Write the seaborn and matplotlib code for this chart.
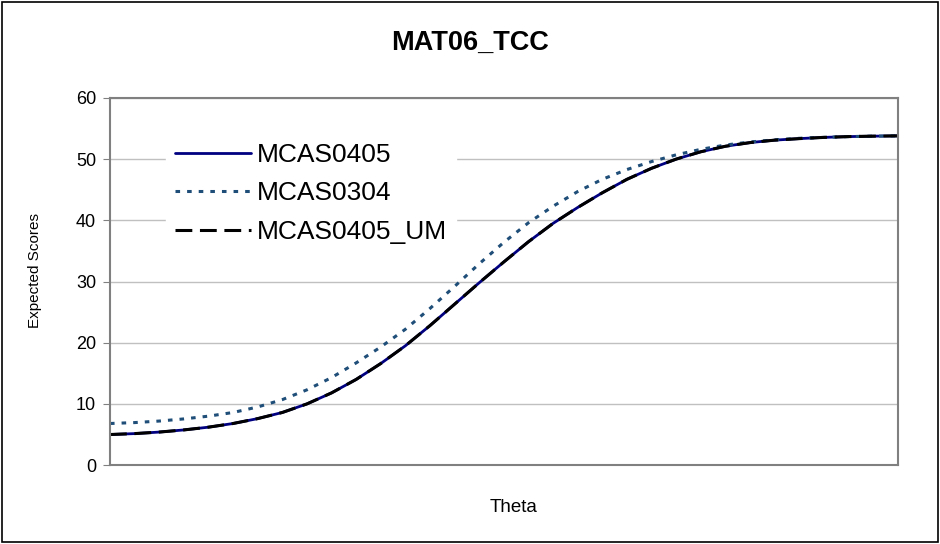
import numpy as np
import pandas as pd
import matplotlib
matplotlib.use("Agg")
import matplotlib.pyplot as plt
from matplotlib.patches import Rectangle
import seaborn as sns

# Data (theta grid, expected scores per form)
theta = np.arange(-4.0, 4.01, 0.25)

mcas0405 = [5.0, 5.15, 5.4, 5.75, 6.2, 6.8, 7.6, 8.6, 10.0, 11.8, 14.0, 16.6,
            19.5, 22.8, 26.3, 29.8, 33.2, 36.5, 39.5, 42.1, 44.5, 46.7, 48.5,
            50.0, 51.2, 52.1, 52.7, 53.1, 53.35, 53.55, 53.68, 53.75, 53.8]

mcas0304 = [6.8, 6.95, 7.2, 7.55, 8.0, 8.6, 9.5, 10.7, 12.3, 14.3, 16.7, 19.3,
            22.2, 25.6, 29.2, 32.9, 36.4, 39.6, 42.3, 44.7, 46.7, 48.3, 49.6,
            50.7, 51.6, 52.3, 52.8, 53.15, 53.4, 53.55, 53.68, 53.75, 53.8]

mcas0405_um = list(mcas0405)  # same curve as MCAS0405

series_names = ["MCAS0405", "MCAS0304", "MCAS0405_UM"]
y_ticks = [0, 10, 20, 30, 40, 50, 60]

# Build a long-form table for seaborn
df = pd.DataFrame({
    "Theta": np.tile(theta, 3),
    "Expected Scores": mcas0405 + mcas0304 + mcas0405_um,
    "Form": np.repeat(series_names, len(theta)),
})

sns.set_style("white")
plt.rcParams["font.family"] = ["Liberation Sans", "DejaVu Sans"]
plt.rcParams["text.color"] = "black"
plt.rcParams["ytick.labelcolor"] = "black"

fig = plt.figure(figsize=(9.4, 5.44), dpi=100)
ax = fig.add_axes([0.117, 0.145, 0.838, 0.675])

# Line styles per series
styles = {
    "MCAS0405": dict(color="#000080", linewidth=2.0, linestyle="-"),
    "MCAS0304": dict(color="#1f4e79", linewidth=2.2, linestyle=(0, (1.5, 2.3))),
    "MCAS0405_UM": dict(color="black", linewidth=2.2, linestyle=(0, (5.5, 2.5))),
}
for name in series_names:
    sub = df[df["Form"] == name]
    sns.lineplot(data=sub, x="Theta", y="Expected Scores", ax=ax,
                 label=name, **styles[name])

# Axes limits and ticks
ax.set_xlim(theta[0], theta[-1])
ax.set_ylim(0, 60)
ax.set_yticks(y_ticks)
ax.set_xticks([])
ax.tick_params(axis="y", labelsize=13, length=5, color="#808080", left=True,
               direction="out", pad=5, labelcolor="black")
ax.yaxis.grid(True, color="#c0c0c0", linewidth=1.0)
ax.set_axisbelow(True)

for side in ax.spines.values():
    side.set_color("#808080")
    side.set_linewidth(1.5)

# Axis titles and chart title placed like the original
ax.set_xlabel("")
ax.set_ylabel("")
fig.text(0.546, 0.068, "Theta", ha="center", va="center", fontsize=13.5)
fig.text(0.037, 1 - 270 / 544, "Expected Scores", ha="center", va="center",
         rotation=90, fontsize=11)
fig.text(0.5, 0.922, "MAT06_TCC", ha="center", va="center",
         fontsize=19.5, fontweight="bold")

# Legend inside the plot, white box with no border
leg = ax.legend(loc="upper left", bbox_to_anchor=(0.054, 0.939),
                fontsize=19, frameon=True, handlelength=2.9,
                handletextpad=0.2, labelspacing=0.55, borderpad=0.35)
leg.get_frame().set_facecolor("white")
leg.get_frame().set_edgecolor("white")
leg.get_frame().set_alpha(1.0)

# Black border around the whole chart
fig.add_artist(Rectangle((0.002, 0.003), 0.996, 0.994, transform=fig.transFigure,
                         fill=False, edgecolor="black", linewidth=1.2))

fig.savefig("out.png", dpi=100)
